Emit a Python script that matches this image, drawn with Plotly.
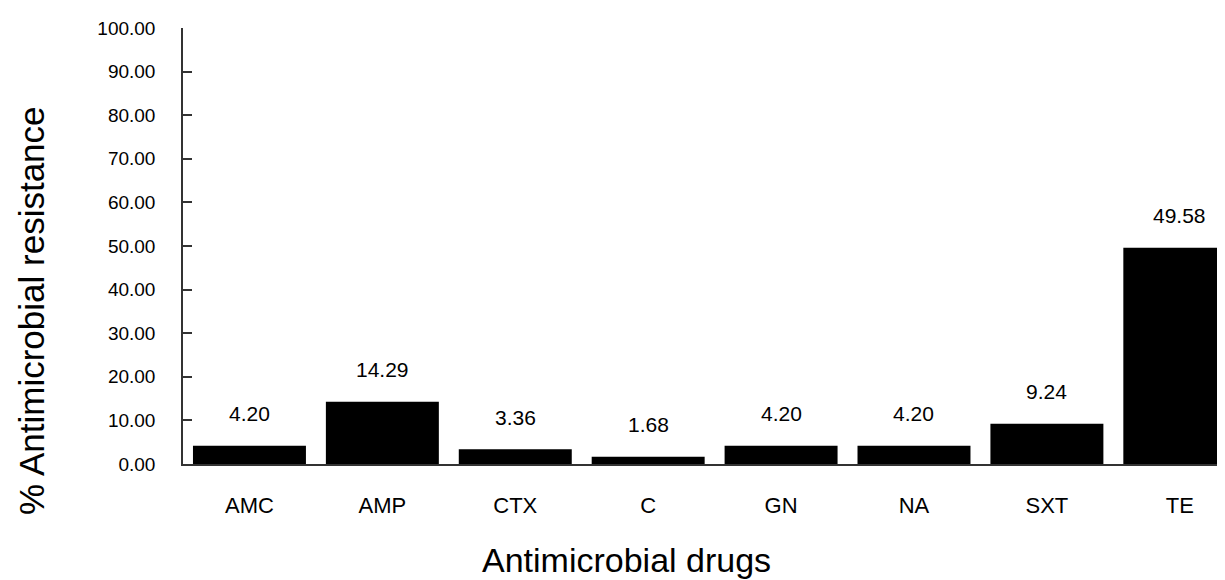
import plotly.graph_objects as go

categories = ["AMC", "AMP", "CTX", "C", "GN", "NA", "SXT", "TE"]
resistance = [4.20, 14.29, 3.36, 1.68, 4.20, 4.20, 9.24, 49.58]
y_ticks = [0, 10, 20, 30, 40, 50, 60, 70, 80, 90, 100]
y_tick_labels = ["%.2f" % v for v in y_ticks]

fig = go.Figure()
fig.add_trace(go.Bar(
    x=categories, y=resistance,
    marker=dict(color="black", line=dict(width=0)),
    showlegend=False, hoverinfo="skip",
))

for c, v in zip(categories, resistance):
    fig.add_annotation(
        x=c, y=v, xref="x", yref="y", text="%.2f" % v,
        showarrow=False, yshift=32, yanchor="middle",
        font=dict(family="Arial, Liberation Sans", size=21, color="black"),
    )

fig.add_annotation(
    x=0.426, y=-0.221, xref="paper", yref="paper", text="Antimicrobial drugs",
    showarrow=False, xanchor="center", yanchor="middle",
    font=dict(family="Arial, Liberation Sans", size=34, color="black"),
)
fig.add_annotation(
    x=-0.146, y=0.353, xref="paper", yref="paper", text="% Antimicrobial resistance",
    showarrow=False, xanchor="center", yanchor="middle", textangle=-90,
    font=dict(family="Arial, Liberation Sans", size=35, color="black"),
)

fig.update_layout(
    width=1217, height=572,
    margin=dict(l=175, r=0, t=20, b=116),
    paper_bgcolor="white", plot_bgcolor="white",
    bargap=0.15,
    font=dict(family="Arial, Liberation Sans", color="black"),
)
fig.update_xaxes(
    range=[-0.5, 7.34], showline=True, linecolor="#333", linewidth=1.5,
    ticks="", showgrid=False, zeroline=False,
    tickfont=dict(size=22, color="black"), ticklabelstandoff=21,
)
fig.update_yaxes(
    range=[0, 100], showline=True, linecolor="#333", linewidth=1.5,
    tickmode="array", tickvals=y_ticks, ticktext=y_tick_labels,
    ticks="inside", ticklen=9, tickcolor="#333", tickwidth=1.5,
    showgrid=False, zeroline=False,
    tickfont=dict(size=19, color="black"), ticklabelstandoff=22,
)

fig.write_html("out.html")
